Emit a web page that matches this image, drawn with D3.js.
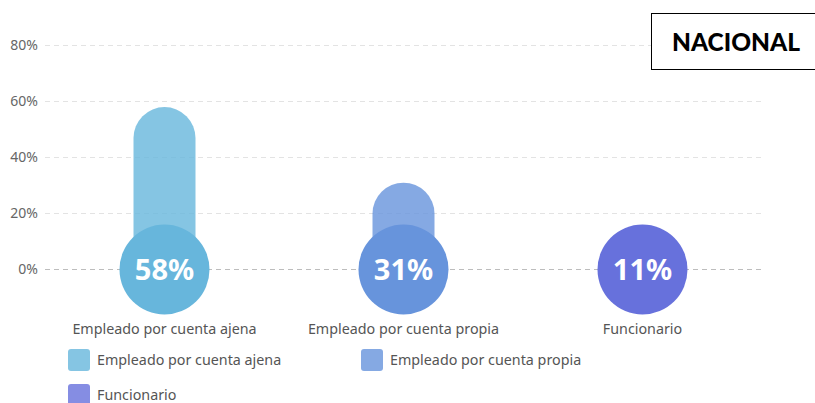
<!DOCTYPE html>
<html>
<head>
<meta charset="utf-8">
<script src="https://cdn.jsdelivr.net/npm/d3@7"></script>
<style>
  body { margin: 0; background: #fff; }
  svg { display: block; font-family: "Noto Sans", "Open Sans", sans-serif; }
</style>
</head>
<body>
<div id="chart"></div>
<script>
var categories = ["Empleado por cuenta ajena", "Empleado por cuenta propia", "Funcionario"];
var values = [58, 31, 11];
var yTicks = [0, 20, 40, 60, 80];
var colors = ["#67b6dc", "#6794dc", "#6771dc"];

var width = 815,
    height = 403;

var svg = d3.select("#chart").append("svg")
    .attr("width", width)
    .attr("height", height);

var x = d3.scaleBand()
    .domain(categories)
    .range([45, 762]);

var y = d3.scaleLinear()
    .domain([0, 80])
    .range([269.5, 45.5]);

// grid
svg.append("g").selectAll("line")
    .data(yTicks)
    .enter().append("line")
    .attr("x1", 45).attr("x2", 762)
    .attr("y1", function(d) { return y(d); })
    .attr("y2", function(d) { return y(d); })
    .attr("stroke", function(d) { return d === 0 ? "#bdbdbd" : "#e3e3e3"; })
    .attr("stroke-dasharray", "5,4");

svg.append("g").selectAll("text")
    .data(yTicks)
    .enter().append("text")
    .attr("x", 38)
    .attr("y", function(d) { return y(d); })
    .attr("dy", "0.35em")
    .attr("text-anchor", "end")
    .attr("fill", "#666")
    .style("font-size", "14px")
    .text(function(d) { return d + "%"; });

var barW = 62, r = 45;

var g = svg.append("g").selectAll("g")
    .data(categories)
    .enter().append("g");

g.append("rect")
    .attr("x", function(d) { return x(d) + x.bandwidth() / 2 - barW / 2; })
    .attr("y", function(d, i) { return y(values[i]); })
    .attr("width", barW)
    .attr("height", function(d, i) { return y(0) - y(values[i]); })
    .attr("rx", barW / 2)
    .attr("fill", function(d, i) { return colors[i]; })
    .attr("fill-opacity", 0.8);

g.append("circle")
    .attr("cx", function(d) { return x(d) + x.bandwidth() / 2; })
    .attr("cy", y(0))
    .attr("r", r)
    .attr("fill", function(d, i) { return colors[i]; });

g.append("text")
    .attr("x", function(d) { return x(d) + x.bandwidth() / 2; })
    .attr("y", y(0))
    .attr("dy", "0.36em")
    .attr("text-anchor", "middle")
    .attr("fill", "#fff")
    .style("font-size", "29px")
    .style("font-weight", "bold")
    .text(function(d, i) { return values[i] + "%"; });

g.append("text")
    .attr("x", function(d) { return x(d) + x.bandwidth() / 2; })
    .attr("y", 329)
    .attr("dy", "0.35em")
    .attr("text-anchor", "middle")
    .attr("fill", "#555")
    .style("font-size", "14.3px")
    .text(function(d) { return d; });

// legend
var legendPos = [[68, 349], [361, 349], [68, 384]];
var lg = svg.append("g").selectAll("g")
    .data(categories)
    .enter().append("g")
    .attr("transform", function(d, i) { return "translate(" + legendPos[i][0] + "," + legendPos[i][1] + ")"; });

lg.append("rect")
    .attr("width", 22).attr("height", 22).attr("rx", 3)
    .attr("fill", function(d, i) { return colors[i]; })
    .attr("fill-opacity", 0.8);

lg.append("text")
    .attr("x", 29).attr("y", 11)
    .attr("dy", "0.35em")
    .attr("fill", "#555")
    .style("font-size", "14.3px")
    .text(function(d) { return d; });

// title box
svg.append("rect")
    .attr("x", 651.5).attr("y", 13.5)
    .attr("width", 170).attr("height", 56)
    .attr("fill", "#fff")
    .attr("stroke", "#000");

svg.append("text")
    .attr("x", 736).attr("y", 42)
    .attr("dy", "0.35em")
    .attr("text-anchor", "middle")
    .style("font-family", "Lato, sans-serif")
    .style("font-weight", "900")
    .style("font-size", "24.5px")
    .text("NACIONAL");
</script>
</body>
</html>
